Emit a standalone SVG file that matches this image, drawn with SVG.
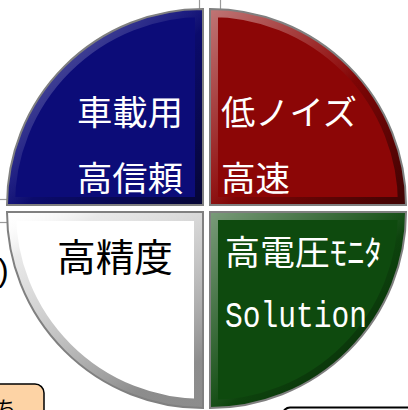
<svg xmlns="http://www.w3.org/2000/svg" width="408" height="410" viewBox="0 0 408 410">
<defs>
<style>
.edge{fill:none;stroke:#808080;stroke-width:2}
.bev{fill:none;stroke:url(#bev);stroke-width:16}
.lbl{font-family:"Noto Sans CJK JP","Noto Sans",sans-serif;font-size:34px}
.w{fill:#FFFFFF}
.k{fill:#000000}
.guide{stroke:#9A9A9A;stroke-width:1.2;fill:none}
</style>
<linearGradient id="bev" x1="0" y1="0" x2="1" y2="1">
<stop offset="0" stop-color="#FFFFFF" stop-opacity="0.45"/>
<stop offset="0.45" stop-color="#FFFFFF" stop-opacity="0.08"/>
<stop offset="0.55" stop-color="#000000" stop-opacity="0.1"/>
<stop offset="1" stop-color="#000000" stop-opacity="0.55"/>
</linearGradient>
<linearGradient id="bevw" x1="0" y1="0" x2="0.5" y2="1">
<stop offset="0" stop-color="#FFFFFF" stop-opacity="0"/>
<stop offset="0.2" stop-color="#C0C0C0" stop-opacity="0.35"/>
<stop offset="1" stop-color="#707070" stop-opacity="0.8"/>
</linearGradient>
<path id="qb" d="M203,205 L7,205 A196,196 0 0 1 203,9 Z"/>
<path id="qr" d="M210,205 L210,9 A196,196 0 0 1 406,205 Z"/>
<path id="qw" d="M203,212 L203,408 A196,196 0 0 1 7,212 Z"/>
<path id="qg" d="M210,212 L406,212 A196,196 0 0 1 210,408 Z"/>
<clipPath id="cb"><use href="#qb"/></clipPath>
<clipPath id="cr"><use href="#qr"/></clipPath>
<clipPath id="cw"><use href="#qw"/></clipPath>
<clipPath id="cg"><use href="#qg"/></clipPath>
</defs>
<rect width="408" height="410" fill="#FFFFFF"/>
<g id="connectors">
<line class="guide" x1="199.5" y1="0" x2="199.5" y2="9"/>
<line class="guide" x1="220.5" y1="0" x2="220.5" y2="9"/>
<line class="guide" x1="0" y1="199.5" x2="8" y2="199.5"/>
<line class="guide" x1="0" y1="222.5" x2="10" y2="222.5"/>
</g>
<g id="outside">
<text x="-2" y="281" style="font-family:'Liberation Sans',sans-serif;font-size:32px" fill="#000">)</text>
<rect x="-20" y="384" width="64" height="40" rx="9" fill="#FDD3A5" stroke="#000" stroke-width="1.5"/>
<text x="-4" y="416" class="k" style="font-family:'Noto Sans CJK JP',sans-serif;font-size:20px">ち</text>
<rect x="283" y="407.5" width="160" height="40" rx="7" fill="#FFFFFF" stroke="#000" stroke-width="2"/>
</g>
<g id="q-blue">
<use href="#qb" fill="#0C0C78"/>
<g clip-path="url(#cb)"><use href="#qb" class="bev"/></g>
<use href="#qb" class="edge"/>
<text class="lbl w" x="77" y="125" textLength="106" lengthAdjust="spacingAndGlyphs">車載用</text>
<text class="lbl w" x="77" y="191" textLength="106" lengthAdjust="spacingAndGlyphs">高信頼</text>
</g>
<g id="q-red">
<use href="#qr" fill="#8C0606"/>
<g clip-path="url(#cr)"><use href="#qr" class="bev"/></g>
<use href="#qr" class="edge"/>
<text class="lbl w" x="221" y="125" textLength="136" lengthAdjust="spacingAndGlyphs">低ノイズ</text>
<text class="lbl w" x="221" y="191" textLength="69" lengthAdjust="spacingAndGlyphs">高速</text>
</g>
<g id="q-white">
<use href="#qw" fill="#FFFFFF"/>
<g clip-path="url(#cw)"><use href="#qw" fill="none" stroke="url(#bevw)" stroke-width="18"/></g>
<use href="#qw" class="edge"/>
<text class="lbl k" x="57" y="271" style="font-size:38px" textLength="116" lengthAdjust="spacingAndGlyphs">高精度</text>
</g>
<g id="q-green">
<use href="#qg" fill="#0E4A0E"/>
<g clip-path="url(#cg)"><use href="#qg" class="bev"/></g>
<use href="#qg" class="edge"/>
<text class="lbl w" x="225" y="265" textLength="157" lengthAdjust="spacingAndGlyphs">高電圧ﾓﾆﾀ</text>
<text x="225" y="327" class="w" style="font-family:'Liberation Mono','DejaVu Sans Mono',monospace;font-size:37px" textLength="142" lengthAdjust="spacingAndGlyphs">Solution</text>
</g>
</svg>
